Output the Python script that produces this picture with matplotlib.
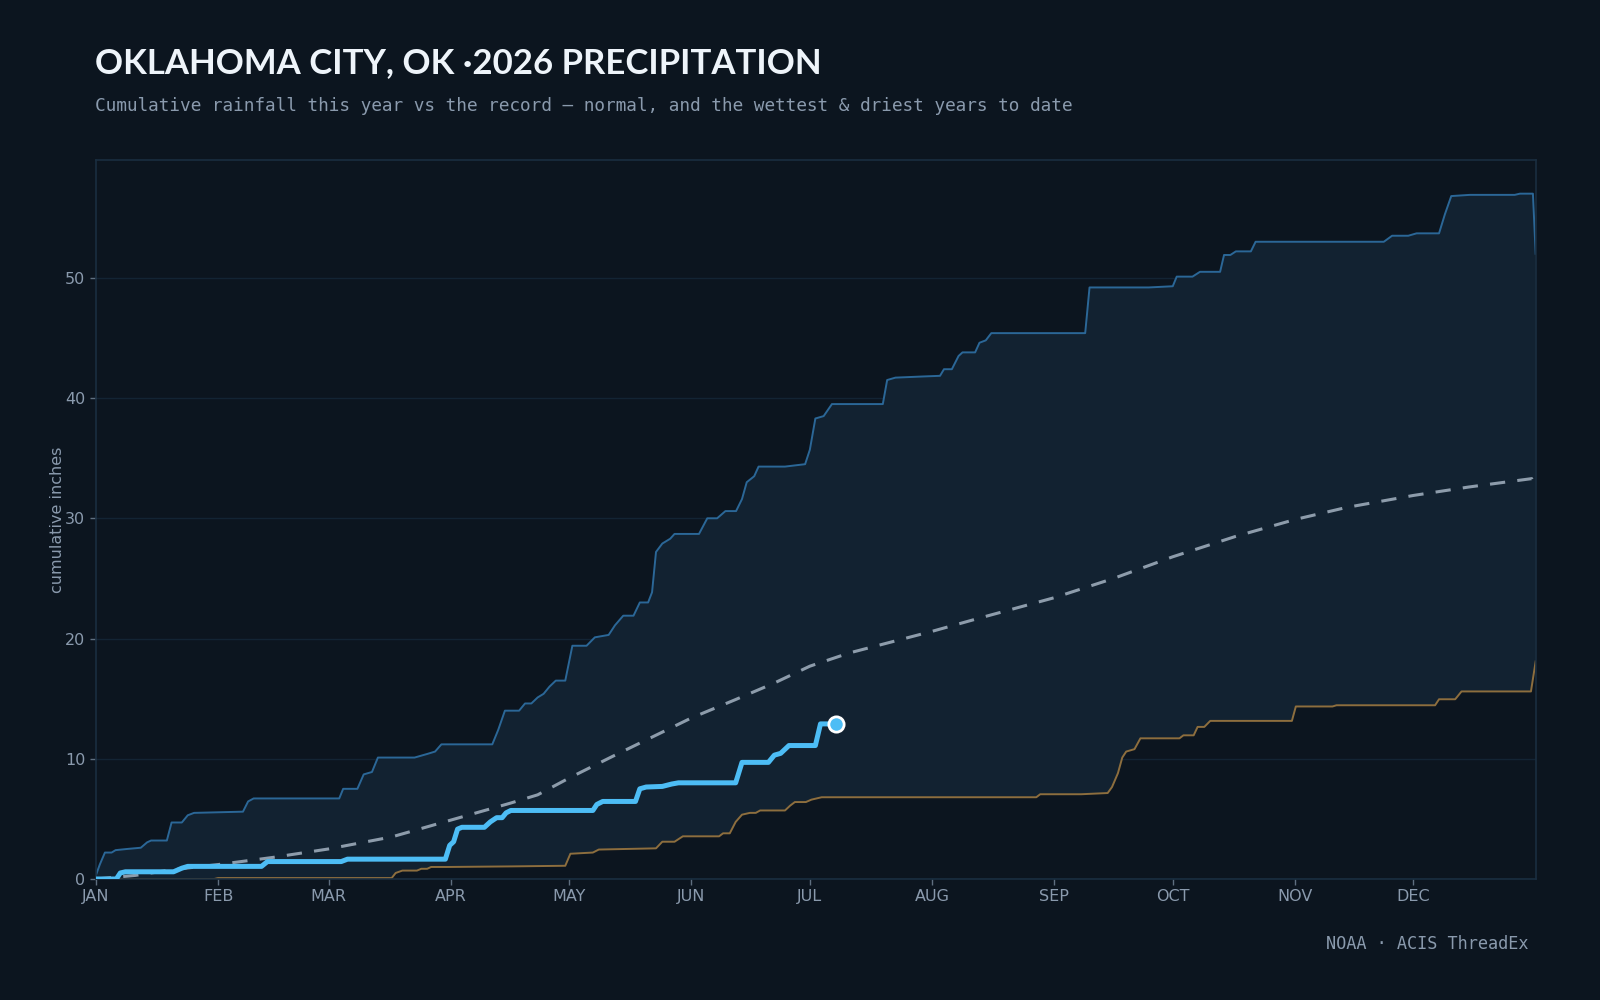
import numpy as np
import matplotlib
matplotlib.use("Agg")
import matplotlib.pyplot as plt

# day-of-year knots (0 = Jan 1) and cumulative inches
wet_days = [0, 1, 2.3, 4, 5, 8, 11.4, 13, 14, 18, 19.2, 21.8, 23.3, 24.9, 37.3, 38.6, 40, 61.7,
            62.7, 66.3, 67.9, 70, 71.5, 80.8, 84, 86, 87.6, 100.5, 102, 103.7, 107.3, 108.8, 110.4,
            112, 113.5, 115, 116.6, 119, 120.8, 124.4, 126.5, 130, 131.6, 133.7, 136.3, 137.9, 140,
            141, 142, 143.6, 145.6, 146.7, 152.9, 155, 157.5, 159.6, 162.3, 163.8, 165, 166.9, 168,
            174.7, 179.8, 181, 182.4, 184.5, 186.6, 199.5, 200.6, 202.7, 210, 214, 215, 217, 218.7,
            219.7, 222.9, 224, 225.6, 227, 250.8, 251.9, 266.9, 273, 274, 278, 279.9, 285, 286,
            287.6, 289, 292.8, 294, 326.5, 328.6, 332.7, 334.8, 340.5, 342, 343.6, 348.3, 359.7,
            361, 364.3, 365]
wet_vals = [0.3, 1.2, 2.2, 2.2, 2.4, 2.5, 2.6, 3.05, 3.2, 3.2, 4.7, 4.7, 5.3, 5.5, 5.6, 6.45, 6.7, 6.7,
            7.5, 7.5, 8.7, 8.9, 10.1, 10.1, 10.4, 10.6, 11.2, 11.2, 12.4, 14.0, 14.0, 14.6, 14.6,
            15.1, 15.4, 16.0, 16.5, 16.5, 19.4, 19.4, 20.1, 20.3, 21.1, 21.9, 21.9, 23.0, 23.0,
            23.85, 27.2, 27.9, 28.3, 28.7, 28.7, 30.0, 30.0, 30.6, 30.6, 31.6, 33.0, 33.5, 34.3,
            34.3, 34.5, 35.7, 38.3, 38.5, 39.5, 39.5, 41.5, 41.7, 41.8, 41.85, 42.4, 42.4, 43.5,
            43.8, 43.8, 44.6, 44.8, 45.4, 45.4, 49.2, 49.2, 49.3, 50.1, 50.1, 50.5, 50.5, 51.9,
            51.9, 52.2, 52.2, 53.0, 53.0, 53.5, 53.5, 53.7, 53.7, 55.3, 56.8, 56.9, 56.9,
            57.0, 57.0, 52.0]

dry_days = [0, 30, 31, 75, 76, 77.7, 81.4, 82.5, 84, 85, 89, 105.7, 119, 120.3, 126, 127.5, 142,
            143.6, 146.7, 148.8, 158, 159, 160.7, 162.2, 163.8, 165.8, 167.3, 168.4, 174.7, 176,
            177.2, 180, 181.4, 184, 238.4, 239.4, 249.8, 256.5, 257.6, 259.1, 260.2, 261.2, 263.3,
            264.8, 274.7, 275.7, 278.3, 279.3, 281, 282.5, 303.2, 304.2, 313.5, 314.5, 339.5,
            340.5, 344.6, 346.2, 363.8, 365]
dry_vals = [0.0, 0.0, 0.08, 0.08, 0.5, 0.7, 0.7, 0.85, 0.85, 1.0, 1.0, 1.05, 1.1, 2.1, 2.2, 2.45, 2.55,
            3.1, 3.1, 3.55, 3.55, 3.8, 3.8, 4.75, 5.35, 5.5, 5.5, 5.7, 5.7, 6.1,
            6.4, 6.4, 6.6, 6.8, 6.8, 7.05, 7.05, 7.15, 7.65, 8.8, 10.1, 10.6, 10.8,
            11.7, 11.7, 11.95, 11.95, 12.65, 12.65, 13.15, 13.15, 14.35, 14.35, 14.45, 14.45,
            14.95, 14.95, 15.6, 15.6, 18.1]

normal_days = [0, 10, 20, 31, 45, 59, 75, 90, 105, 112, 120, 131, 141, 151, 162, 172, 181, 191,
               212, 224, 243, 258, 273, 289, 304, 317, 334, 348, 364, 365]
normal_vals = [0.0, 0.3, 0.8, 1.2, 1.8, 2.5, 3.5, 4.9, 6.3, 7.0, 8.4, 10.2, 11.8, 13.4, 14.9, 16.3,
               17.7, 18.8, 20.6, 21.7, 23.4, 25.0, 26.8, 28.5, 29.9, 30.9, 31.9, 32.6, 33.3, 32.5]

year_days = [0, 5.2, 6.2, 7.5, 19.7, 21.8, 23.3, 42, 43.5, 62.2, 63.8, 88.6, 89.7, 90.7, 91.7, 92.8,
             98.5, 100, 101.6, 103, 104, 105.2, 126, 127, 128.5, 136.8, 137.9, 139.5, 143.6, 146,
             147.7, 162.2, 163.8, 170.5, 172, 173.6, 175.7, 182.4, 183.7, 187.6]
year_vals = [0.0, 0.0, 0.5, 0.6, 0.6, 0.9, 1.05, 1.05, 1.45, 1.45, 1.65, 1.65, 2.8, 3.1, 4.15, 4.3,
             4.3, 4.75, 5.1, 5.1, 5.5, 5.7, 5.7, 6.2, 6.45, 6.45, 7.5, 7.65, 7.7, 7.9,
             8.0, 8.0, 9.7, 9.7, 10.3, 10.45, 11.1, 11.1, 12.9, 12.9]

month_starts = [0, 31, 59, 90, 120, 151, 181, 212, 243, 273, 304, 334]
month_labels = ["JAN", "FEB", "MAR", "APR", "MAY", "JUN", "JUL", "AUG", "SEP", "OCT", "NOV", "DEC"]

BG = "#0c151f"
MUTED = "#8a9aad"

fig = plt.figure(figsize=(16, 10), dpi=100, facecolor=BG)
ax = fig.add_axes([0.0599, 0.121, 0.8999, 0.719], facecolor=BG)

# envelope between driest and wettest
ax.fill(np.concatenate([wet_days, dry_days[::-1]]),
        np.concatenate([wet_vals, dry_vals[::-1]]),
        color="#122231", lw=0, zorder=1)
ax.plot(wet_days, wet_vals, color="#2b6797", lw=1.4, zorder=2)
ax.plot(dry_days, dry_vals, color="#8d6e3e", lw=1.4, zorder=2)
ax.plot(normal_days, normal_vals, color="#8d9cab", lw=2.2, dashes=(5, 4), zorder=3)
ax.plot(year_days, year_vals, color="#4dbdf5", lw=3.6, solid_joinstyle="round", zorder=4)
ax.plot(year_days[-1], year_vals[-1], "o", ms=11, mfc="#4dbdf5", mec="white", mew=2, zorder=5)

ax.set_xlim(0, 365)
ax.set_ylim(0, 59.8)
ax.set_xticks(month_starts)
ax.set_xticklabels(month_labels)
ax.set_yticks([0, 10, 20, 30, 40, 50])
ax.tick_params(colors="#5f6f80", labelcolor=MUTED, labelsize=11.5, length=4, width=1)
ax.grid(axis="y", color="#16283a", lw=1, alpha=0.8)
ax.set_axisbelow(True)
for s in ax.spines.values():
    s.set_color("#1a2e40")
    s.set_linewidth(1.2)

ax.set_ylabel("cumulative inches", color=MUTED, fontsize=11.5, labelpad=0)

fig.text(0.0595, 0.937, "OKLAHOMA CITY, OK ·2026 PRECIPITATION", fontsize=25, fontweight="bold",
         family=["Lato", "DejaVu Sans"], color="#eef4fa", va="center")
fig.text(0.0595, 0.894, "Cumulative rainfall this year vs the record — normal, and the wettest & driest years to date",
         fontsize=12.8, family="DejaVu Sans Mono", color=MUTED, va="center")
fig.text(0.955, 0.056, "NOAA · ACIS ThreadEx", fontsize=12.2, family="DejaVu Sans Mono",
         color=MUTED, ha="right", va="center")

fig.savefig("out.png", dpi=100, facecolor=BG)
